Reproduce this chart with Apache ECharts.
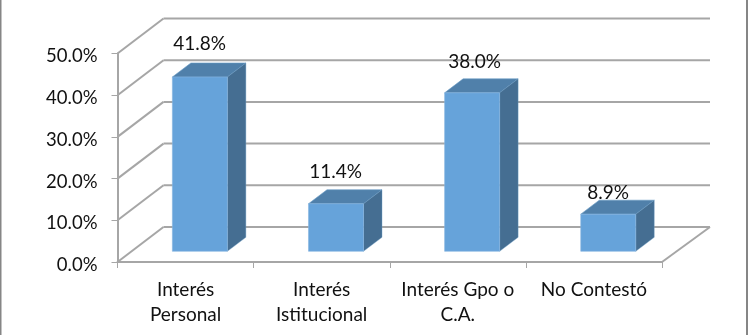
<!DOCTYPE html>
<html><head><meta charset="utf-8">
<style>html,body{margin:0;padding:0;background:#fff}#c{width:748px;height:335px}</style>
<script src="https://cdn.jsdelivr.net/npm/echarts@6/dist/echarts.min.js"></script>
</head><body><div id="c"></div>
<script>
const categories = ['Interés\nPersonal', 'Interés\nIstitucional', 'Interés Gpo o\nC.A.', 'No Contestó'];
const values = [41.8, 11.4, 38.0, 8.9];
const yTicks = [0, 10, 20, 30, 40, 50];
const labelGaps = [33.5, 31.5, 31, 21.5];
const labelShifts = [-0.2, -0.3, 2.6, -0.2];

const DEPTH_X = 46, DEPTH_Y = 35;
const BAR_W = 55, BAR_DX = 18.5, BAR_DY = 14, BAR_SHIFT_X = 14.3, BAR_LIFT = 10.7;
const WALL = '#a6a6a6', FONT = 'Lato, "Open Sans", sans-serif', TXT = '#111';

const chart = echarts.init(document.getElementById('c'), null, {renderer: 'canvas'});
const line = (x1, y1, x2, y2) => ({type: 'line', shape: {x1, y1, x2, y2}, style: {stroke: WALL, lineWidth: 2}, silent: true});

chart.setOption({
  animation: false,
  backgroundColor: '#fff',
  graphic: [
    {type: 'line', shape: {x1: 0.5, y1: 0, x2: 0.5, y2: 335}, style: {stroke: '#868686', lineWidth: 2}},
    {type: 'line', shape: {x1: 747, y1: 0, x2: 747, y2: 335}, style: {stroke: '#868686', lineWidth: 2}}
  ],
  grid: {left: 117.5, top: 53.5, width: 544.5, height: 208.5, containLabel: false},
  xAxis: {
    type: 'category', data: categories, boundaryGap: true,
    axisLine: {show: true, lineStyle: {color: WALL, width: 2}},
    axisTick: {show: true, alignWithLabel: false, length: 6, lineStyle: {color: WALL, width: 1}},
    axisLabel: {color: TXT, fontFamily: FONT, fontSize: 19, lineHeight: 25, margin: 15, interval: 0},
    splitLine: {show: false}
  },
  yAxis: {
    type: 'value', min: 0, max: 50, interval: 10,
    axisLine: {show: true, lineStyle: {color: WALL, width: 2}},
    axisTick: {show: true, length: 6, lineStyle: {color: WALL, width: 1}},
    axisLabel: {
      margin: 20,
      formatter: v => '{t|' + v.toFixed(1) + '%}',
      rich: {t: {color: TXT, fontFamily: FONT, fontSize: 18.5, padding: [6, 0, 0, 0]}}
    },
    splitLine: {show: false}
  },
  series: [
    {
      type: 'custom', silent: true, z: 1, data: yTicks.map(t => [t]),
      encode: {y: 0},
      renderItem(params, api) {
        const cs = params.coordSys;
        const y = api.coord([0, api.value(0)])[1];
        const x = cs.x, xr = cs.x + cs.width;
        const children = [
          line(x, y, x + DEPTH_X, y - DEPTH_Y),
          line(x + DEPTH_X, y - DEPTH_Y, xr + DEPTH_X + 2, y - DEPTH_Y)
        ];
        if (api.value(0) === 0) children.push(line(xr, y, xr + DEPTH_X + 2, y - DEPTH_Y));
        return {type: 'group', children};
      }
    },
    {
      type: 'custom', silent: true, z: 3,
      data: values.map((v, i) => [i, v]),
      encode: {x: 0, y: 1},
      renderItem(params, api) {
        const i = api.value(0), v = api.value(1);
        const cx = api.coord([i, 0])[0] + BAR_SHIFT_X;
        const yb = api.coord([i, 0])[1] - BAR_LIFT;
        const yt = api.coord([i, v])[1] - BAR_LIFT;
        const xl = cx - BAR_W / 2, xr = cx + BAR_W / 2;
        return {type: 'group', children: [
          {type: 'polygon', shape: {points: [[xl, yt], [xr, yt], [xr + BAR_DX, yt - BAR_DY], [xl + BAR_DX, yt - BAR_DY]]},
           style: {fill: '#5080aa', stroke: '#6a9cc6', lineWidth: 0.6}},
          {type: 'polygon', shape: {points: [[xr, yt], [xr + BAR_DX, yt - BAR_DY], [xr + BAR_DX, yb - BAR_DY], [xr, yb]]},
           style: {fill: '#456e92', stroke: '#6a9cc6', lineWidth: 0.4}},
          {type: 'rect', shape: {x: xl, y: yt, width: BAR_W, height: yb - yt},
           style: {fill: '#66a3da', stroke: '#86b6e0', lineWidth: 0.6}},
          {type: 'text', style: {text: v.toFixed(1) + '%', x: cx + labelShifts[i], y: yt - labelGaps[i], align: 'center', verticalAlign: 'middle',
            fill: TXT, font: '19px ' + FONT}, z2: 10}
        ]};
      }
    }
  ]
});
</script></body></html>
